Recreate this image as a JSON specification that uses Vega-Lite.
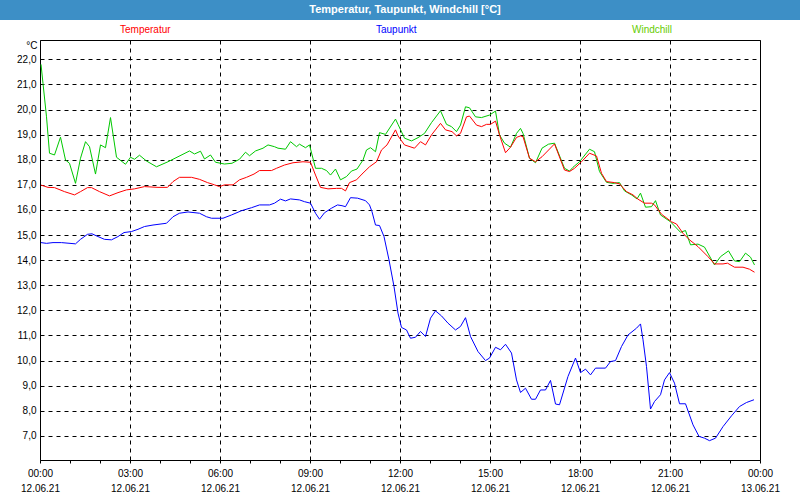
{
  "$schema": "https://vega.github.io/schema/vega-lite/v6.json",
  "padding": 0,
  "background": "#ffffff",
  "spacing": 20,
  "bounds": "flush",
  "center": true,
  "config": {"font": "Liberation Sans"},
  "resolve": {"scale": {"color": "independent"}, "legend": {"color": "independent"}},
  "vconcat": [
    {
      "width": 800,
      "height": 20,
      "view": {"fill": "#3d8fc6", "stroke": null},
      "data": {"values": [{"title": "Temperatur, Taupunkt, Windchill [°C]"}]},
      "mark": {"type": "text", "color": "#ffffff", "fontWeight": "bold", "fontSize": 11, "font": "Liberation Sans", "baseline": "middle", "align": "center", "dx": 5},
      "encoding": {"text": {"field": "title"}}
    },
    {
      "width": 720,
      "height": 420,
      "view": {"stroke": "#000000", "strokeWidth": 1, "fill": "#ffffff"},
      "data": {"values": [
        {"s":"Windchill","t":"2021-06-12T00:02","v":21.8},{"s":"Windchill","t":"2021-06-12T00:06","v":21.04},{"s":"Windchill","t":"2021-06-12T00:13","v":19.71},{"s":"Windchill","t":"2021-06-12T00:19","v":18.26},{"s":"Windchill","t":"2021-06-12T00:29","v":18.19},{"s":"Windchill","t":"2021-06-12T00:41","v":18.9},{"s":"Windchill","t":"2021-06-12T00:51","v":17.99},{"s":"Windchill","t":"2021-06-12T00:59","v":17.86},{"s":"Windchill","t":"2021-06-12T01:11","v":17.06},{"s":"Windchill","t":"2021-06-12T01:21","v":18.06},{"s":"Windchill","t":"2021-06-12T01:31","v":18.72},{"s":"Windchill","t":"2021-06-12T01:39","v":18.52},{"s":"Windchill","t":"2021-06-12T01:51","v":17.43},{"s":"Windchill","t":"2021-06-12T02:01","v":18.59},{"s":"Windchill","t":"2021-06-12T02:11","v":18.48},{"s":"Windchill","t":"2021-06-12T02:21","v":19.68},{"s":"Windchill","t":"2021-06-12T02:33","v":18.1},{"s":"Windchill","t":"2021-06-12T02:51","v":17.82},{"s":"Windchill","t":"2021-06-12T03:01","v":18.1},{"s":"Windchill","t":"2021-06-12T03:09","v":18.02},{"s":"Windchill","t":"2021-06-12T03:19","v":18.18},{"s":"Windchill","t":"2021-06-12T03:33","v":17.95},{"s":"Windchill","t":"2021-06-12T03:53","v":17.72},{"s":"Windchill","t":"2021-06-12T04:16","v":17.92},{"s":"Windchill","t":"2021-06-12T04:36","v":18.12},{"s":"Windchill","t":"2021-06-12T04:59","v":18.35},{"s":"Windchill","t":"2021-06-12T05:09","v":18.23},{"s":"Windchill","t":"2021-06-12T05:21","v":18.34},{"s":"Windchill","t":"2021-06-12T05:29","v":18.03},{"s":"Windchill","t":"2021-06-12T05:41","v":18.19},{"s":"Windchill","t":"2021-06-12T05:51","v":17.9},{"s":"Windchill","t":"2021-06-12T06:09","v":17.83},{"s":"Windchill","t":"2021-06-12T06:24","v":17.86},{"s":"Windchill","t":"2021-06-12T06:39","v":18.02},{"s":"Windchill","t":"2021-06-12T06:51","v":18.3},{"s":"Windchill","t":"2021-06-12T06:59","v":18.16},{"s":"Windchill","t":"2021-06-12T07:11","v":18.35},{"s":"Windchill","t":"2021-06-12T07:26","v":18.46},{"s":"Windchill","t":"2021-06-12T07:36","v":18.59},{"s":"Windchill","t":"2021-06-12T07:49","v":18.52},{"s":"Windchill","t":"2021-06-12T07:56","v":18.46},{"s":"Windchill","t":"2021-06-12T08:11","v":18.42},{"s":"Windchill","t":"2021-06-12T08:21","v":18.72},{"s":"Windchill","t":"2021-06-12T08:33","v":18.52},{"s":"Windchill","t":"2021-06-12T08:39","v":18.62},{"s":"Windchill","t":"2021-06-12T08:51","v":18.48},{"s":"Windchill","t":"2021-06-12T08:59","v":18.59},{"s":"Windchill","t":"2021-06-12T09:11","v":17.66},{"s":"Windchill","t":"2021-06-12T09:23","v":17.66},{"s":"Windchill","t":"2021-06-12T09:33","v":17.57},{"s":"Windchill","t":"2021-06-12T09:41","v":17.39},{"s":"Windchill","t":"2021-06-12T09:51","v":17.63},{"s":"Windchill","t":"2021-06-12T10:01","v":17.2},{"s":"Windchill","t":"2021-06-12T10:13","v":17.33},{"s":"Windchill","t":"2021-06-12T10:23","v":17.55},{"s":"Windchill","t":"2021-06-12T10:34","v":17.63},{"s":"Windchill","t":"2021-06-12T10:46","v":17.99},{"s":"Windchill","t":"2021-06-12T10:53","v":18.39},{"s":"Windchill","t":"2021-06-12T11:01","v":18.48},{"s":"Windchill","t":"2021-06-12T11:11","v":18.32},{"s":"Windchill","t":"2021-06-12T11:19","v":19.08},{"s":"Windchill","t":"2021-06-12T11:31","v":19.01},{"s":"Windchill","t":"2021-06-12T11:51","v":19.62},{"s":"Windchill","t":"2021-06-12T11:56","v":19.41},{"s":"Windchill","t":"2021-06-12T12:09","v":18.86},{"s":"Windchill","t":"2021-06-12T12:23","v":18.75},{"s":"Windchill","t":"2021-06-12T12:36","v":18.88},{"s":"Windchill","t":"2021-06-12T12:49","v":19.05},{"s":"Windchill","t":"2021-06-12T13:03","v":19.48},{"s":"Windchill","t":"2021-06-12T13:21","v":19.95},{"s":"Windchill","t":"2021-06-12T13:33","v":19.41},{"s":"Windchill","t":"2021-06-12T13:43","v":19.32},{"s":"Windchill","t":"2021-06-12T13:53","v":19.12},{"s":"Windchill","t":"2021-06-12T14:01","v":19.38},{"s":"Windchill","t":"2021-06-12T14:11","v":20.11},{"s":"Windchill","t":"2021-06-12T14:19","v":20.07},{"s":"Windchill","t":"2021-06-12T14:31","v":19.71},{"s":"Windchill","t":"2021-06-12T14:43","v":19.68},{"s":"Windchill","t":"2021-06-12T14:59","v":19.78},{"s":"Windchill","t":"2021-06-12T15:11","v":19.94},{"s":"Windchill","t":"2021-06-12T15:19","v":18.99},{"s":"Windchill","t":"2021-06-12T15:29","v":18.66},{"s":"Windchill","t":"2021-06-12T15:41","v":18.5},{"s":"Windchill","t":"2021-06-12T15:53","v":19.05},{"s":"Windchill","t":"2021-06-12T16:01","v":19.25},{"s":"Windchill","t":"2021-06-12T16:06","v":19.05},{"s":"Windchill","t":"2021-06-12T16:19","v":18.06},{"s":"Windchill","t":"2021-06-12T16:31","v":17.88},{"s":"Windchill","t":"2021-06-12T16:44","v":18.46},{"s":"Windchill","t":"2021-06-12T16:57","v":18.62},{"s":"Windchill","t":"2021-06-12T17:09","v":18.66},{"s":"Windchill","t":"2021-06-12T17:29","v":17.66},{"s":"Windchill","t":"2021-06-12T17:39","v":17.55},{"s":"Windchill","t":"2021-06-12T17:46","v":17.7},{"s":"Windchill","t":"2021-06-12T17:59","v":17.92},{"s":"Windchill","t":"2021-06-12T18:19","v":18.42},{"s":"Windchill","t":"2021-06-12T18:29","v":18.32},{"s":"Windchill","t":"2021-06-12T18:39","v":17.53},{"s":"Windchill","t":"2021-06-12T18:53","v":17.1},{"s":"Windchill","t":"2021-06-12T19:06","v":17.06},{"s":"Windchill","t":"2021-06-12T19:19","v":17.09},{"s":"Windchill","t":"2021-06-12T19:29","v":16.76},{"s":"Windchill","t":"2021-06-12T19:43","v":16.6},{"s":"Windchill","t":"2021-06-12T19:54","v":16.44},{"s":"Windchill","t":"2021-06-12T20:01","v":16.67},{"s":"Windchill","t":"2021-06-12T20:11","v":16.11},{"s":"Windchill","t":"2021-06-12T20:23","v":16.13},{"s":"Windchill","t":"2021-06-12T20:31","v":16.37},{"s":"Windchill","t":"2021-06-12T20:41","v":15.8},{"s":"Windchill","t":"2021-06-12T21:01","v":15.53},{"s":"Windchill","t":"2021-06-12T21:21","v":15.11},{"s":"Windchill","t":"2021-06-12T21:31","v":15.18},{"s":"Windchill","t":"2021-06-12T21:41","v":14.61},{"s":"Windchill","t":"2021-06-12T21:56","v":14.64},{"s":"Windchill","t":"2021-06-12T22:09","v":14.52},{"s":"Windchill","t":"2021-06-12T22:29","v":13.81},{"s":"Windchill","t":"2021-06-12T22:41","v":14.14},{"s":"Windchill","t":"2021-06-12T22:57","v":14.37},{"s":"Windchill","t":"2021-06-12T23:09","v":13.97},{"s":"Windchill","t":"2021-06-12T23:19","v":13.94},{"s":"Windchill","t":"2021-06-12T23:31","v":14.28},{"s":"Windchill","t":"2021-06-12T23:41","v":14.12},{"s":"Windchill","t":"2021-06-12T23:49","v":13.81},
        {"s":"Temperatur","t":"2021-06-12T00:02","v":16.99},{"s":"Temperatur","t":"2021-06-12T00:16","v":16.9},{"s":"Temperatur","t":"2021-06-12T00:29","v":16.89},{"s":"Temperatur","t":"2021-06-12T00:49","v":16.73},{"s":"Temperatur","t":"2021-06-12T01:09","v":16.6},{"s":"Temperatur","t":"2021-06-12T01:21","v":16.73},{"s":"Temperatur","t":"2021-06-12T01:35","v":16.89},{"s":"Temperatur","t":"2021-06-12T01:43","v":16.89},{"s":"Temperatur","t":"2021-06-12T01:59","v":16.73},{"s":"Temperatur","t":"2021-06-12T02:19","v":16.56},{"s":"Temperatur","t":"2021-06-12T02:36","v":16.69},{"s":"Temperatur","t":"2021-06-12T02:53","v":16.8},{"s":"Temperatur","t":"2021-06-12T03:09","v":16.84},{"s":"Temperatur","t":"2021-06-12T03:29","v":16.93},{"s":"Temperatur","t":"2021-06-12T03:56","v":16.9},{"s":"Temperatur","t":"2021-06-12T04:15","v":16.9},{"s":"Temperatur","t":"2021-06-12T04:26","v":17.13},{"s":"Temperatur","t":"2021-06-12T04:39","v":17.3},{"s":"Temperatur","t":"2021-06-12T05:03","v":17.3},{"s":"Temperatur","t":"2021-06-12T05:19","v":17.22},{"s":"Temperatur","t":"2021-06-12T05:35","v":17.09},{"s":"Temperatur","t":"2021-06-12T05:49","v":17.0},{"s":"Temperatur","t":"2021-06-12T05:59","v":16.93},{"s":"Temperatur","t":"2021-06-12T06:09","v":17.0},{"s":"Temperatur","t":"2021-06-12T06:26","v":17.0},{"s":"Temperatur","t":"2021-06-12T06:39","v":17.2},{"s":"Temperatur","t":"2021-06-12T06:53","v":17.3},{"s":"Temperatur","t":"2021-06-12T07:08","v":17.43},{"s":"Temperatur","t":"2021-06-12T07:19","v":17.57},{"s":"Temperatur","t":"2021-06-12T07:43","v":17.57},{"s":"Temperatur","t":"2021-06-12T07:53","v":17.66},{"s":"Temperatur","t":"2021-06-12T08:09","v":17.79},{"s":"Temperatur","t":"2021-06-12T08:26","v":17.88},{"s":"Temperatur","t":"2021-06-12T08:46","v":17.92},{"s":"Temperatur","t":"2021-06-12T09:01","v":17.9},{"s":"Temperatur","t":"2021-06-12T09:11","v":17.39},{"s":"Temperatur","t":"2021-06-12T09:21","v":16.9},{"s":"Temperatur","t":"2021-06-12T09:36","v":16.84},{"s":"Temperatur","t":"2021-06-12T09:53","v":16.86},{"s":"Temperatur","t":"2021-06-12T10:03","v":16.86},{"s":"Temperatur","t":"2021-06-12T10:11","v":16.76},{"s":"Temperatur","t":"2021-06-12T10:19","v":17.09},{"s":"Temperatur","t":"2021-06-12T10:33","v":17.2},{"s":"Temperatur","t":"2021-06-12T10:44","v":17.43},{"s":"Temperatur","t":"2021-06-12T10:59","v":17.72},{"s":"Temperatur","t":"2021-06-12T11:13","v":17.92},{"s":"Temperatur","t":"2021-06-12T11:23","v":18.39},{"s":"Temperatur","t":"2021-06-12T11:34","v":18.59},{"s":"Temperatur","t":"2021-06-12T11:51","v":19.19},{"s":"Temperatur","t":"2021-06-12T11:56","v":18.95},{"s":"Temperatur","t":"2021-06-12T12:09","v":18.59},{"s":"Temperatur","t":"2021-06-12T12:29","v":18.46},{"s":"Temperatur","t":"2021-06-12T12:41","v":18.72},{"s":"Temperatur","t":"2021-06-12T12:51","v":18.59},{"s":"Temperatur","t":"2021-06-12T13:03","v":18.99},{"s":"Temperatur","t":"2021-06-12T13:21","v":19.45},{"s":"Temperatur","t":"2021-06-12T13:31","v":19.19},{"s":"Temperatur","t":"2021-06-12T13:44","v":19.12},{"s":"Temperatur","t":"2021-06-12T13:53","v":18.95},{"s":"Temperatur","t":"2021-06-12T14:01","v":19.05},{"s":"Temperatur","t":"2021-06-12T14:13","v":19.71},{"s":"Temperatur","t":"2021-06-12T14:19","v":19.74},{"s":"Temperatur","t":"2021-06-12T14:33","v":19.38},{"s":"Temperatur","t":"2021-06-12T14:43","v":19.32},{"s":"Temperatur","t":"2021-06-12T14:53","v":19.41},{"s":"Temperatur","t":"2021-06-12T15:01","v":19.41},{"s":"Temperatur","t":"2021-06-12T15:11","v":19.54},{"s":"Temperatur","t":"2021-06-12T15:19","v":18.99},{"s":"Temperatur","t":"2021-06-12T15:31","v":18.28},{"s":"Temperatur","t":"2021-06-12T15:41","v":18.5},{"s":"Temperatur","t":"2021-06-12T15:53","v":18.89},{"s":"Temperatur","t":"2021-06-12T16:01","v":18.95},{"s":"Temperatur","t":"2021-06-12T16:06","v":18.92},{"s":"Temperatur","t":"2021-06-12T16:19","v":18.06},{"s":"Temperatur","t":"2021-06-12T16:31","v":17.92},{"s":"Temperatur","t":"2021-06-12T16:44","v":18.12},{"s":"Temperatur","t":"2021-06-12T17:09","v":18.63},{"s":"Temperatur","t":"2021-06-12T17:29","v":17.59},{"s":"Temperatur","t":"2021-06-12T17:39","v":17.53},{"s":"Temperatur","t":"2021-06-12T17:49","v":17.66},{"s":"Temperatur","t":"2021-06-12T18:03","v":17.92},{"s":"Temperatur","t":"2021-06-12T18:19","v":18.26},{"s":"Temperatur","t":"2021-06-12T18:33","v":18.15},{"s":"Temperatur","t":"2021-06-12T18:43","v":17.46},{"s":"Temperatur","t":"2021-06-12T18:53","v":17.13},{"s":"Temperatur","t":"2021-06-12T19:09","v":17.09},{"s":"Temperatur","t":"2021-06-12T19:19","v":17.04},{"s":"Temperatur","t":"2021-06-12T19:33","v":16.73},{"s":"Temperatur","t":"2021-06-12T19:46","v":16.6},{"s":"Temperatur","t":"2021-06-12T19:56","v":16.43},{"s":"Temperatur","t":"2021-06-12T20:09","v":16.27},{"s":"Temperatur","t":"2021-06-12T20:23","v":16.27},{"s":"Temperatur","t":"2021-06-12T20:29","v":16.2},{"s":"Temperatur","t":"2021-06-12T20:43","v":15.83},{"s":"Temperatur","t":"2021-06-12T21:03","v":15.53},{"s":"Temperatur","t":"2021-06-12T21:13","v":15.44},{"s":"Temperatur","t":"2021-06-12T21:26","v":15.07},{"s":"Temperatur","t":"2021-06-12T21:39","v":14.81},{"s":"Temperatur","t":"2021-06-12T21:56","v":14.54},{"s":"Temperatur","t":"2021-06-12T22:16","v":14.14},{"s":"Temperatur","t":"2021-06-12T22:29","v":13.85},{"s":"Temperatur","t":"2021-06-12T22:46","v":13.85},{"s":"Temperatur","t":"2021-06-12T22:55","v":13.88},{"s":"Temperatur","t":"2021-06-12T23:09","v":13.72},{"s":"Temperatur","t":"2021-06-12T23:26","v":13.72},{"s":"Temperatur","t":"2021-06-12T23:39","v":13.64},{"s":"Temperatur","t":"2021-06-12T23:49","v":13.52},
        {"s":"Taupunkt","t":"2021-06-12T00:02","v":14.7},{"s":"Taupunkt","t":"2021-06-12T00:13","v":14.67},{"s":"Taupunkt","t":"2021-06-12T00:26","v":14.7},{"s":"Taupunkt","t":"2021-06-12T00:43","v":14.7},{"s":"Taupunkt","t":"2021-06-12T01:11","v":14.65},{"s":"Taupunkt","t":"2021-06-12T01:21","v":14.83},{"s":"Taupunkt","t":"2021-06-12T01:35","v":15.03},{"s":"Taupunkt","t":"2021-06-12T01:44","v":15.05},{"s":"Taupunkt","t":"2021-06-12T01:56","v":14.94},{"s":"Taupunkt","t":"2021-06-12T02:09","v":14.83},{"s":"Taupunkt","t":"2021-06-12T02:23","v":14.81},{"s":"Taupunkt","t":"2021-06-12T02:36","v":14.94},{"s":"Taupunkt","t":"2021-06-12T02:48","v":15.1},{"s":"Taupunkt","t":"2021-06-12T03:03","v":15.14},{"s":"Taupunkt","t":"2021-06-12T03:16","v":15.23},{"s":"Taupunkt","t":"2021-06-12T03:29","v":15.34},{"s":"Taupunkt","t":"2021-06-12T03:46","v":15.4},{"s":"Taupunkt","t":"2021-06-12T04:13","v":15.47},{"s":"Taupunkt","t":"2021-06-12T04:26","v":15.73},{"s":"Taupunkt","t":"2021-06-12T04:39","v":15.87},{"s":"Taupunkt","t":"2021-06-12T04:56","v":15.92},{"s":"Taupunkt","t":"2021-06-12T05:19","v":15.87},{"s":"Taupunkt","t":"2021-06-12T05:33","v":15.73},{"s":"Taupunkt","t":"2021-06-12T05:43","v":15.67},{"s":"Taupunkt","t":"2021-06-12T06:06","v":15.67},{"s":"Taupunkt","t":"2021-06-12T06:23","v":15.8},{"s":"Taupunkt","t":"2021-06-12T06:43","v":15.97},{"s":"Taupunkt","t":"2021-06-12T07:03","v":16.09},{"s":"Taupunkt","t":"2021-06-12T07:19","v":16.2},{"s":"Taupunkt","t":"2021-06-12T07:39","v":16.2},{"s":"Taupunkt","t":"2021-06-12T07:49","v":16.27},{"s":"Taupunkt","t":"2021-06-12T08:01","v":16.43},{"s":"Taupunkt","t":"2021-06-12T08:11","v":16.36},{"s":"Taupunkt","t":"2021-06-12T08:21","v":16.44},{"s":"Taupunkt","t":"2021-06-12T08:39","v":16.4},{"s":"Taupunkt","t":"2021-06-12T08:49","v":16.33},{"s":"Taupunkt","t":"2021-06-12T09:01","v":16.27},{"s":"Taupunkt","t":"2021-06-12T09:11","v":15.87},{"s":"Taupunkt","t":"2021-06-12T09:19","v":15.63},{"s":"Taupunkt","t":"2021-06-12T09:29","v":15.89},{"s":"Taupunkt","t":"2021-06-12T09:43","v":16.07},{"s":"Taupunkt","t":"2021-06-12T09:55","v":16.2},{"s":"Taupunkt","t":"2021-06-12T10:04","v":16.17},{"s":"Taupunkt","t":"2021-06-12T10:11","v":16.13},{"s":"Taupunkt","t":"2021-06-12T10:21","v":16.49},{"s":"Taupunkt","t":"2021-06-12T10:35","v":16.47},{"s":"Taupunkt","t":"2021-06-12T10:51","v":16.37},{"s":"Taupunkt","t":"2021-06-12T10:59","v":16.2},{"s":"Taupunkt","t":"2021-06-12T11:04","v":15.93},{"s":"Taupunkt","t":"2021-06-12T11:11","v":15.4},{"s":"Taupunkt","t":"2021-06-12T11:19","v":15.38},{"s":"Taupunkt","t":"2021-06-12T11:28","v":14.94},{"s":"Taupunkt","t":"2021-06-12T11:38","v":14.01},{"s":"Taupunkt","t":"2021-06-12T11:48","v":12.95},{"s":"Taupunkt","t":"2021-06-12T11:56","v":11.89},{"s":"Taupunkt","t":"2021-06-12T12:03","v":11.32},{"s":"Taupunkt","t":"2021-06-12T12:13","v":11.22},{"s":"Taupunkt","t":"2021-06-12T12:21","v":10.89},{"s":"Taupunkt","t":"2021-06-12T12:31","v":10.93},{"s":"Taupunkt","t":"2021-06-12T12:41","v":11.16},{"s":"Taupunkt","t":"2021-06-12T12:51","v":10.96},{"s":"Taupunkt","t":"2021-06-12T13:01","v":11.69},{"s":"Taupunkt","t":"2021-06-12T13:11","v":11.98},{"s":"Taupunkt","t":"2021-06-12T13:23","v":11.78},{"s":"Taupunkt","t":"2021-06-12T13:36","v":11.49},{"s":"Taupunkt","t":"2021-06-12T13:51","v":11.22},{"s":"Taupunkt","t":"2021-06-12T14:01","v":11.36},{"s":"Taupunkt","t":"2021-06-12T14:11","v":11.71},{"s":"Taupunkt","t":"2021-06-12T14:21","v":10.96},{"s":"Taupunkt","t":"2021-06-12T14:36","v":10.36},{"s":"Taupunkt","t":"2021-06-12T14:51","v":10.0},{"s":"Taupunkt","t":"2021-06-12T14:59","v":10.1},{"s":"Taupunkt","t":"2021-06-12T15:11","v":10.53},{"s":"Taupunkt","t":"2021-06-12T15:21","v":10.43},{"s":"Taupunkt","t":"2021-06-12T15:31","v":10.65},{"s":"Taupunkt","t":"2021-06-12T15:43","v":10.3},{"s":"Taupunkt","t":"2021-06-12T15:53","v":9.23},{"s":"Taupunkt","t":"2021-06-12T16:01","v":8.73},{"s":"Taupunkt","t":"2021-06-12T16:11","v":8.9},{"s":"Taupunkt","t":"2021-06-12T16:23","v":8.46},{"s":"Taupunkt","t":"2021-06-12T16:31","v":8.46},{"s":"Taupunkt","t":"2021-06-12T16:41","v":8.83},{"s":"Taupunkt","t":"2021-06-12T16:51","v":8.83},{"s":"Taupunkt","t":"2021-06-12T17:01","v":9.21},{"s":"Taupunkt","t":"2021-06-12T17:11","v":8.27},{"s":"Taupunkt","t":"2021-06-12T17:19","v":8.24},{"s":"Taupunkt","t":"2021-06-12T17:36","v":9.37},{"s":"Taupunkt","t":"2021-06-12T17:51","v":10.1},{"s":"Taupunkt","t":"2021-06-12T18:01","v":9.52},{"s":"Taupunkt","t":"2021-06-12T18:11","v":9.66},{"s":"Taupunkt","t":"2021-06-12T18:21","v":9.43},{"s":"Taupunkt","t":"2021-06-12T18:31","v":9.7},{"s":"Taupunkt","t":"2021-06-12T18:51","v":9.7},{"s":"Taupunkt","t":"2021-06-12T19:01","v":9.96},{"s":"Taupunkt","t":"2021-06-12T19:11","v":10.0},{"s":"Taupunkt","t":"2021-06-12T19:23","v":10.56},{"s":"Taupunkt","t":"2021-06-12T19:36","v":11.02},{"s":"Taupunkt","t":"2021-06-12T19:53","v":11.29},{"s":"Taupunkt","t":"2021-06-12T20:01","v":11.46},{"s":"Taupunkt","t":"2021-06-12T20:06","v":10.83},{"s":"Taupunkt","t":"2021-06-12T20:13","v":9.76},{"s":"Taupunkt","t":"2021-06-12T20:21","v":8.07},{"s":"Taupunkt","t":"2021-06-12T20:29","v":8.37},{"s":"Taupunkt","t":"2021-06-12T20:41","v":8.64},{"s":"Taupunkt","t":"2021-06-12T20:49","v":9.23},{"s":"Taupunkt","t":"2021-06-12T20:59","v":9.52},{"s":"Taupunkt","t":"2021-06-12T21:09","v":9.1},{"s":"Taupunkt","t":"2021-06-12T21:19","v":8.28},{"s":"Taupunkt","t":"2021-06-12T21:31","v":8.28},{"s":"Taupunkt","t":"2021-06-12T21:46","v":7.44},{"s":"Taupunkt","t":"2021-06-12T21:58","v":6.98},{"s":"Taupunkt","t":"2021-06-12T22:09","v":6.91},{"s":"Taupunkt","t":"2021-06-12T22:19","v":6.81},{"s":"Taupunkt","t":"2021-06-12T22:31","v":6.91},{"s":"Taupunkt","t":"2021-06-12T22:46","v":7.37},{"s":"Taupunkt","t":"2021-06-12T23:03","v":7.8},{"s":"Taupunkt","t":"2021-06-12T23:19","v":8.17},{"s":"Taupunkt","t":"2021-06-12T23:33","v":8.33},{"s":"Taupunkt","t":"2021-06-12T23:48","v":8.44}
      ]},
      "mark": {"type": "line", "strokeWidth": 1, "interpolate": "linear"},
      "encoding": {
        "x": {
          "field": "t", "type": "temporal",
          "scale": {"domain": [{"year": 2021, "month": 6, "date": 12, "hours": 0}, {"year": 2021, "month": 6, "date": 13, "hours": 0}], "nice": false},
          "axis": {
            "title": null,
            "domain": false,
            "values": [
              {"year": 2021, "month": 6, "date": 12, "hours": 0}, {"year": 2021, "month": 6, "date": 12, "hours": 1}, {"year": 2021, "month": 6, "date": 12, "hours": 2}, {"year": 2021, "month": 6, "date": 12, "hours": 3}, {"year": 2021, "month": 6, "date": 12, "hours": 4}, {"year": 2021, "month": 6, "date": 12, "hours": 5}, {"year": 2021, "month": 6, "date": 12, "hours": 6}, {"year": 2021, "month": 6, "date": 12, "hours": 7}, {"year": 2021, "month": 6, "date": 12, "hours": 8}, {"year": 2021, "month": 6, "date": 12, "hours": 9}, {"year": 2021, "month": 6, "date": 12, "hours": 10}, {"year": 2021, "month": 6, "date": 12, "hours": 11}, {"year": 2021, "month": 6, "date": 12, "hours": 12}, {"year": 2021, "month": 6, "date": 12, "hours": 13}, {"year": 2021, "month": 6, "date": 12, "hours": 14}, {"year": 2021, "month": 6, "date": 12, "hours": 15}, {"year": 2021, "month": 6, "date": 12, "hours": 16}, {"year": 2021, "month": 6, "date": 12, "hours": 17}, {"year": 2021, "month": 6, "date": 12, "hours": 18}, {"year": 2021, "month": 6, "date": 12, "hours": 19}, {"year": 2021, "month": 6, "date": 12, "hours": 20}, {"year": 2021, "month": 6, "date": 12, "hours": 21}, {"year": 2021, "month": 6, "date": 12, "hours": 22}, {"year": 2021, "month": 6, "date": 12, "hours": 23}, {"year": 2021, "month": 6, "date": 13, "hours": 0}
            ],
            "labelExpr": "hours(datum.value) % 3 === 0 ? [timeFormat(datum.value, '%H:%M'), timeFormat(datum.value, '%d.%m.%y')] : ''",
            "labelFlush": false,
            "labelBound": false,
            "labelOverlap": false,
            "labelFont": "Liberation Sans",
            "labelFontSize": 10,
            "labelColor": "#000000",
            "labelLineHeight": 15,
            "labelPadding": 5,
            "labelBaseline": "top",
            "ticks": true,
            "tickSize": 3,
            "tickColor": "#000000",
            "tickWidth": 1,
            "grid": true,
            "gridColor": "#000000",
            "gridDash": [4, 4],
            "gridWidth": 1,
            "gridOpacity": {"condition": {"test": "hours(datum.value) % 3 === 0", "value": 1}, "value": 0}
          }
        },
        "y": {
          "field": "v", "type": "quantitative",
          "scale": {"domain": [6.04, 22.77], "nice": false, "zero": false},
          "axis": {
            "title": "°C",
            "titleAngle": 0,
            "titleX": -3,
            "titleY": 5,
            "titleAlign": "right",
            "titleBaseline": "middle",
            "titleFont": "Liberation Sans",
            "titleFontSize": 10,
            "titleFontWeight": "normal",
            "titleColor": "#000000",
            "domain": false,
            "ticks": false,
            "values": [7, 8, 9, 10, 11, 12, 13, 14, 15, 16, 17, 18, 19, 20, 21, 22],
            "labelExpr": "replace(format(datum.value, '.1f'), '.', ',')",
            "labelFont": "Liberation Sans",
            "labelFontSize": 10,
            "labelColor": "#000000",
            "labelPadding": 4,
            "grid": true,
            "gridColor": "#000000",
            "gridDash": [4, 4],
            "gridWidth": 1
          }
        },
        "color": {
          "field": "s", "type": "nominal",
          "scale": {"domain": ["Temperatur", "Taupunkt", "Windchill"], "range": ["#ff0000", "#0000ff", "#00c800"]},
          "legend": {
            "title": null,
            "orient": "none",
            "legendX": 70,
            "legendY": -15,
            "direction": "horizontal",
            "symbolSize": 0,
            "symbolStrokeWidth": 0,
            "symbolOpacity": 0,
            "labelOffset": 0,
            "columnPadding": 195,
            "gridAlign": "all",
            "labelFont": "Liberation Sans",
            "labelFontSize": 10,
            "labelLimit": 200,
            "padding": 0,
            "encode": {"labels": {"update": {"fill": {"signal": "datum.value === 'Temperatur' ? '#ff0000' : datum.value === 'Taupunkt' ? '#0000ff' : '#66cc00'"}}}}
          }
        }
      }
    }
  ]
}
